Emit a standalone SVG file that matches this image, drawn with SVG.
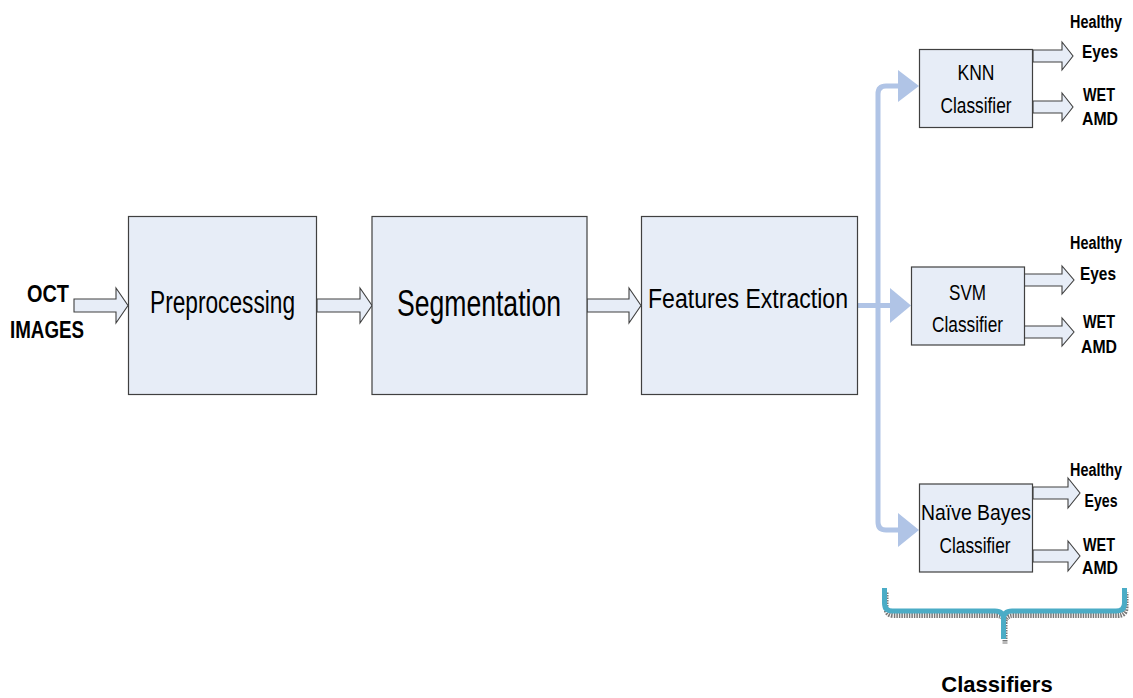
<svg xmlns="http://www.w3.org/2000/svg" width="1133" height="698" viewBox="0 0 1133 698">
<style>
.box{fill:#E7EDF7;stroke:#404040;stroke-width:1.2}
.barrow{fill:#E7EDF7;stroke:#404040;stroke-width:1.1}
.main{font-family:"Liberation Sans Narrow","Liberation Sans",Arial,sans-serif;fill:#000;text-anchor:middle}
.lbl{font-family:"Liberation Sans Narrow","Liberation Sans",Arial,sans-serif;font-weight:bold;fill:#000;text-anchor:middle}
.conn{fill:none;stroke:#B0C4E6;stroke-width:5}
.head{fill:#B0C4E6;stroke:none}
</style>
<rect width="1133" height="698" fill="#fff"/>

<g id="connectors">
  <path class="conn" d="M857,305.5 H893"/>
  <path class="conn" d="M900,86 H886 Q878,86 878,94 V522 Q878,530 886,530 H900"/>
  <polygon class="head" points="898,70 919,86 898,102"/>
  <polygon class="head" points="890,288 911,305.5 890,323"/>
  <polygon class="head" points="898,513 919,530 898,547"/>
  <path class="barrow" d="M74,299 H116 V288 L128,305.5 L116,323 V312 H74 Z"/>
  <path class="barrow" d="M317,299 H360 V288 L372,305.5 L360,323 V312 H317 Z"/>
  <path class="barrow" d="M587,299 H629 V288 L641,305.5 L629,323 V312 H587 Z"/>
  <path class="barrow" d="M1033,50 H1062 V42 L1073,56 L1062,70 V62 H1033 Z"/>
  <path class="barrow" d="M1033,101 H1062 V93 L1073,107 L1062,121 V113 H1033 Z"/>
  <path class="barrow" d="M1024,274 H1062 V266 L1074,280 L1062,294 V286 H1024 Z"/>
  <path class="barrow" d="M1024,326 H1062 V318 L1074,332 L1062,346 V338 H1024 Z"/>
  <path class="barrow" d="M1033,487 H1068 V478 L1080,493 L1068,508 V499 H1033 Z"/>
  <path class="barrow" d="M1033,550 H1068 V541 L1080,556 L1068,571 V562 H1033 Z"/>
</g>

<g id="input">
  <text class="lbl" x="48" y="302" font-size="23" textLength="42" lengthAdjust="spacingAndGlyphs">OCT</text>
  <text class="lbl" x="47" y="338" font-size="23" textLength="74" lengthAdjust="spacingAndGlyphs">IMAGES</text>
</g>

<g id="preprocessing">
  <rect class="box" x="128.5" y="216.5" width="188" height="178"/>
  <text class="main" x="222.5" y="313" font-size="31" textLength="145" lengthAdjust="spacingAndGlyphs">Preprocessing</text>
</g>

<g id="segmentation">
  <rect class="box" x="372" y="216.5" width="215" height="178"/>
  <text class="main" x="479" y="316" font-size="37" textLength="164" lengthAdjust="spacingAndGlyphs">Segmentation</text>
</g>

<g id="features">
  <rect class="box" x="641.5" y="216.5" width="216" height="178"/>
  <text class="main" x="748" y="308" font-size="27" textLength="200" lengthAdjust="spacingAndGlyphs">Features Extraction</text>
</g>

<g id="knn">
  <rect class="box" x="919.5" y="49.5" width="113" height="78"/>
  <text class="main" x="976" y="80" font-size="22" textLength="37" lengthAdjust="spacingAndGlyphs">KNN</text>
  <text class="main" x="976" y="113" font-size="22" textLength="71" lengthAdjust="spacingAndGlyphs">Classifier</text>
  <text class="lbl" x="1096" y="28" font-size="18" textLength="52" lengthAdjust="spacingAndGlyphs">Healthy</text>
  <text class="lbl" x="1100" y="58" font-size="19" textLength="36" lengthAdjust="spacingAndGlyphs">Eyes</text>
  <text class="lbl" x="1099" y="101" font-size="19" textLength="32" lengthAdjust="spacingAndGlyphs">WET</text>
  <text class="lbl" x="1100" y="125" font-size="19" textLength="36" lengthAdjust="spacingAndGlyphs">AMD</text>
</g>

<g id="svm">
  <rect class="box" x="911.5" y="267" width="113" height="78"/>
  <text class="main" x="967.5" y="300" font-size="22" textLength="37" lengthAdjust="spacingAndGlyphs">SVM</text>
  <text class="main" x="967.5" y="332" font-size="22" textLength="71" lengthAdjust="spacingAndGlyphs">Classifier</text>
  <text class="lbl" x="1096" y="249" font-size="18" textLength="52" lengthAdjust="spacingAndGlyphs">Healthy</text>
  <text class="lbl" x="1098" y="280" font-size="19" textLength="36" lengthAdjust="spacingAndGlyphs">Eyes</text>
  <text class="lbl" x="1099" y="328" font-size="19" textLength="32" lengthAdjust="spacingAndGlyphs">WET</text>
  <text class="lbl" x="1099" y="353" font-size="19" textLength="36" lengthAdjust="spacingAndGlyphs">AMD</text>
</g>

<g id="naive-bayes">
  <rect class="box" x="919.5" y="484" width="113" height="88"/>
  <text class="main" x="976" y="520" font-size="22" textLength="110" lengthAdjust="spacingAndGlyphs">Naïve Bayes</text>
  <text class="main" x="975" y="553" font-size="22" textLength="71" lengthAdjust="spacingAndGlyphs">Classifier</text>
  <text class="lbl" x="1096" y="476" font-size="18" textLength="52" lengthAdjust="spacingAndGlyphs">Healthy</text>
  <text class="lbl" x="1101" y="507" font-size="19" textLength="33" lengthAdjust="spacingAndGlyphs">Eyes</text>
  <text class="lbl" x="1099" y="551" font-size="19" textLength="32" lengthAdjust="spacingAndGlyphs">WET</text>
  <text class="lbl" x="1100" y="574" font-size="19" textLength="36" lengthAdjust="spacingAndGlyphs">AMD</text>
</g>

<g id="classifiers-brace">
  <path d="M885.5,590 V605 Q885.5,613 893.5,613 H996 Q1004.5,613 1004.5,621 V641 M1004.5,621 Q1004.5,613 1013,613 H1117 Q1125.5,613 1125.5,605 V590" fill="none" stroke="#777" stroke-width="5" stroke-dasharray="1.5 1" transform="translate(0.5,2.5)"/>
  <path d="M884.5,588 V603 Q884.5,611 892.5,611 H995 Q1003.5,611 1003.5,619 V639 M1003.5,619 Q1003.5,611 1012,611 H1116 Q1124.5,611 1124.5,603 V588" fill="none" stroke="#4BACC6" stroke-width="5"/>
  <text x="997" y="692" font-family="'Liberation Sans',Arial,sans-serif" font-weight="bold" font-size="22" text-anchor="middle">Classifiers</text>
</g>
</svg>
